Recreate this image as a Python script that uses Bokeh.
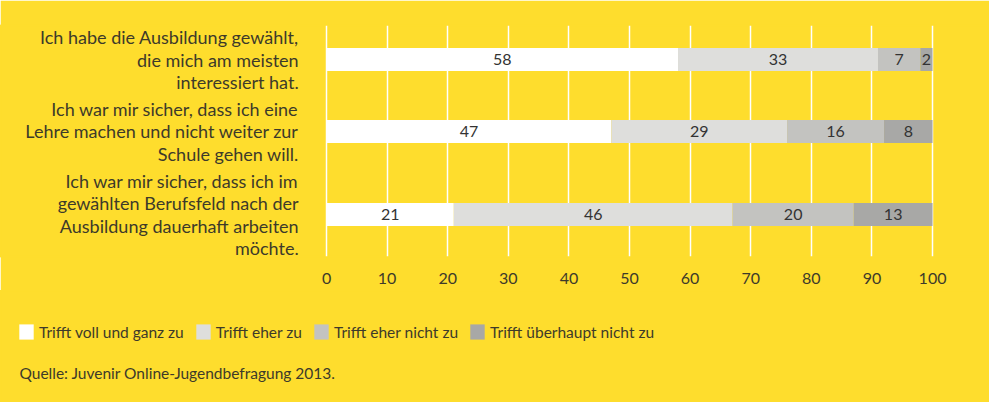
from bokeh.plotting import figure
from bokeh.layouts import column
from bokeh.models import Range1d, FixedTicker, Legend, LegendItem, Label, ColumnDataSource
from bokeh.core.properties import value
from bokeh.embed import file_html
from bokeh.resources import INLINE

# ---- data ----
questions = [
    "Ich habe die Ausbildung gewählt,\ndie mich am meisten\ninteressiert hat.",
    "Ich war mir sicher, dass ich eine\nLehre machen und nicht weiter zur\nSchule gehen will.",
    "Ich war mir sicher, dass ich im\ngewählten Berufsfeld nach der\nAusbildung dauerhaft arbeiten\nmöchte.",
]
series_names = ["Trifft voll und ganz zu", "Trifft eher zu", "Trifft eher nicht zu", "Trifft überhaupt nicht zu"]
voll = [58, 47, 21]
eher = [33, 29, 46]
eher_nicht = [7, 16, 20]
gar_nicht = [2, 8, 13]
x_ticks = [0, 10, 20, 30, 40, 50, 60, 70, 80, 90, 100]
source_text = "Quelle: Juvenir Online-Jugendbefragung 2013."

# ---- style ----
BG = "#FEDD2D"
TXT = "#3d3a2a"
FONT = "Lato"
colors = ["#FFFFFF", "#DEDEDC", "#C3C3C0", "#A8A8A6"]
keys = ["voll", "eher", "eher_nicht", "gar_nicht"]

# row positions in "text line" units: rows are spaced by their label heights plus a gap
GAP = 0.27
n_lines = [q.count("\n") + 1 for q in questions]
ypos = [0.0]
for i in range(1, len(questions)):
    ypos.append(ypos[-1] - ((n_lines[i - 1] + n_lines[i]) / 2 + GAP))

src = ColumnDataSource(dict(y=ypos, q=questions, voll=voll, eher=eher,
                            eher_nicht=eher_nicht, gar_nicht=gar_nicht))

p = figure(width=989, height=290, output_backend="svg", toolbar_location=None,
           x_range=Range1d(-53.8, 109.4), y_range=Range1d(ypos[-1] - 1.91, 1.545),
           y_axis_location=None,
           min_border_left=0, min_border_right=0, min_border_top=25, min_border_bottom=34)
p.background_fill_color = BG
p.border_fill_color = BG
p.outline_line_color = BG
p.outline_line_width = 2

p.hbar_stack(keys, y="y", height=1.045, color=colors, source=src, line_color=None)

# question labels (left of the bars)
p.text(x=-4.6, y="y", text="q", source=src, text_align="right", text_baseline="middle",
       text_font=value(FONT), text_font_size="18px", text_color=TXT, text_line_height=1.02)

# segment labels
series = [voll, eher, eher_nicht, gar_nicht]
lx, ly, lt = [], [], []
for i, yy in enumerate(ypos):
    cum = 0
    for s in series:
        v = s[i]
        lx.append(cum + v / 2)
        ly.append(yy)
        lt.append(str(v))
        cum += v
p.text(x=lx, y=ly, text=lt, text_align="center", text_baseline="middle",
       text_font=value(FONT), text_font_size="16px", text_color="#333333")

# x axis
p.xaxis.ticker = FixedTicker(ticks=x_ticks)
p.xaxis.axis_line_color = None
p.xaxis.major_tick_line_color = None
p.xaxis.minor_tick_line_color = None
p.xaxis.major_label_standoff = 10
p.xaxis.major_label_text_font = FONT
p.xaxis.major_label_text_font_size = "16px"
p.xaxis.major_label_text_color = TXT

p.xgrid.grid_line_color = "white"
p.xgrid.grid_line_width = 1.5
p.ygrid.grid_line_color = None

# ---- legend + source panel ----
p2 = figure(width=989, height=112, output_backend="svg", toolbar_location=None,
            x_range=Range1d(0, 1), y_range=Range1d(0, 1),
            x_axis_type=None, y_axis_type=None,
            min_border_left=0, min_border_right=0, min_border_top=0, min_border_bottom=0)
p2.background_fill_color = BG
p2.border_fill_color = BG
p2.outline_line_color = BG
p2.outline_line_width = 2

nan = float("nan")
items = []
for name, c in zip(series_names, colors):
    r = p2.hbar(y=[nan], right=[nan], height=0.5, color=c, line_color=None)
    items.append(LegendItem(label=name, renderers=[r]))
legend = Legend(items=items, orientation="horizontal", location=(17, 61),
                glyph_width=18, glyph_height=19, label_standoff=4, spacing=10,
                padding=0, margin=0, border_line_color=None, background_fill_alpha=0,
                label_text_font=FONT, label_text_font_size="15.5px", label_text_color=TXT)
p2.add_layout(legend)

p2.add_layout(Label(x=19, y=30, x_units="screen", y_units="screen", text=source_text,
                    text_font=FONT, text_font_size="15.5px", text_color=TXT,
                    text_baseline="middle"))

layout = column(p, p2, spacing=0)
html = file_html(layout, INLINE)
html = html.replace("<body>", '<body style="background-color:%s;">' % BG, 1)
open("out.html", "w").write(html)
